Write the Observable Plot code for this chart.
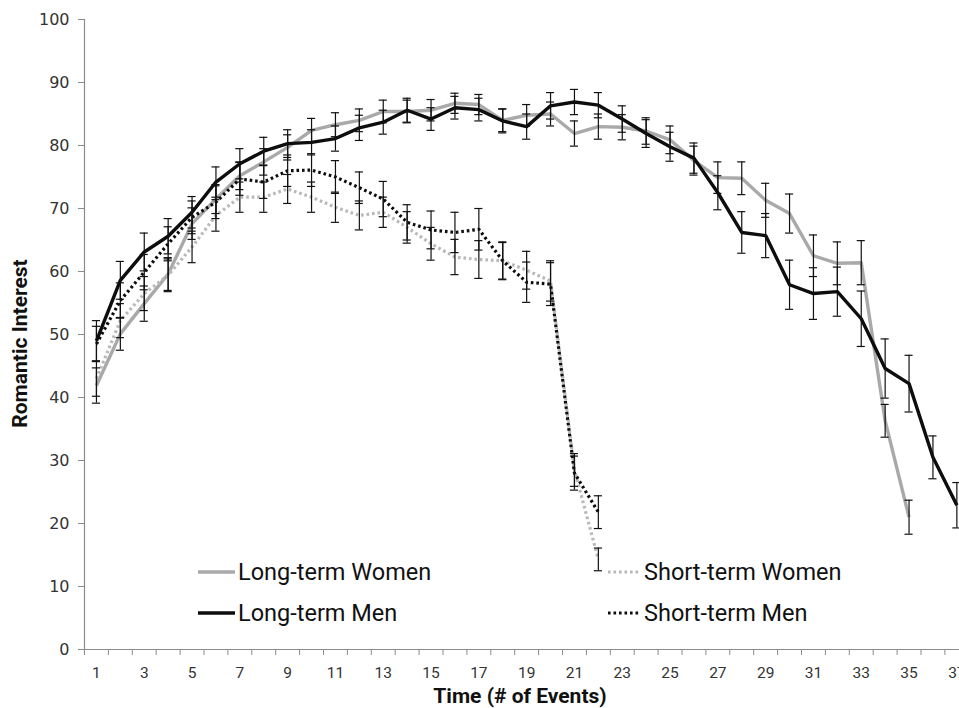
<!DOCTYPE html>
<html>
<head>
<meta charset="utf-8">
<script src="https://cdn.jsdelivr.net/npm/d3@7"></script>
<script src="https://cdn.jsdelivr.net/npm/@observablehq/plot@0.6"></script>
<style>
  body { margin: 0; background: #fff; }
  #wrap { position: relative; width: 959px; height: 708px; overflow: hidden; background: #fff; }
  #wrap svg g[aria-label="y-axis tick label"] { font-family: "DejaVu Sans", sans-serif; font-size: 16px; fill: #333; }
  #wrap svg g[aria-label="x-axis tick label"] { font-family: Roboto, sans-serif; font-size: 15.5px; fill: #333; }
  .leg { position: absolute; display: flex; align-items: center; height: 30px; font-family: Roboto, sans-serif; font-size: 23.5px; color: #111; white-space: nowrap; }
  .leg svg { display: block; margin-right: 3px; }
</style>
</head>
<body>
<div id="wrap"></div>
<script>
// ---- data ----
const events = d3.range(1, 38);               // 1..37
const yTicks = d3.range(0, 101, 10);
const xTickLabels = d3.range(1, 38, 2);       // 1,3,...,37
const seriesNames = ["Long-term Women", "Long-term Men", "Short-term Women", "Short-term Men"];
const xTitle = "Time (# of Events)";
const yTitle = "Romantic Interest";

const longWomen = [41.9, 50.1, 54.9, 59.6, 67.6, 71.5, 75.2, 77.4, 79.7, 82.4,
                   83.3, 84.0, 85.4, 85.4, 85.6, 86.7, 86.5, 84.0, 84.8, 85.0,
                   81.9, 83.0, 82.9, 82.3, 80.9, 77.6, 74.9, 74.8, 71.3, 69.2,
                   62.5, 61.3, 61.4, 36.3, 21.0];
const longWomenErr = [2.8, 2.6, 2.8, 2.6, 2.5, 2.3, 2.2, 2.1, 2.0, 1.9,
                      1.9, 1.8, 1.8, 1.8, 1.7, 1.6, 1.6, 1.8, 1.7, 1.9,
                      2.0, 2.0, 2.0, 2.1, 2.2, 2.3, 2.5, 2.6, 2.7, 3.1,
                      3.3, 3.4, 3.5, 2.6, 2.7];

const longMen = [49.0, 58.6, 63.1, 65.6, 69.4, 74.2, 77.1, 79.1, 80.3, 80.5,
                 81.1, 82.8, 83.7, 85.6, 84.2, 86.0, 85.7, 83.9, 83.0, 86.3,
                 86.9, 86.4, 84.2, 81.9, 79.8, 78.0, 72.5, 66.2, 65.7, 57.9,
                 56.5, 56.8, 52.5, 44.6, 42.2, 30.5, 22.9];
const longMenErr = [3.2, 3.0, 3.0, 2.8, 2.5, 2.4, 2.4, 2.2, 2.2, 2.0,
                    2.0, 2.0, 1.9, 1.9, 1.8, 1.8, 1.8, 1.9, 2.0, 2.1,
                    2.0, 2.0, 2.1, 2.2, 2.3, 2.4, 2.7, 3.3, 3.5, 3.9,
                    4.1, 3.9, 4.4, 4.7, 4.5, 3.4, 3.6];

const shortWomen = [43.0, 52.2, 56.5, 59.4, 63.9, 68.9, 71.8, 71.8, 73.1, 71.8,
                    70.2, 68.9, 69.4, 67.0, 64.4, 62.3, 61.9, 61.7, 60.2, 58.5,
                    28.5, 14.3];
const shortWomenErr = [2.8, 2.7, 2.7, 2.6, 2.5, 2.5, 2.4, 2.4, 2.3, 2.4,
                       2.4, 2.3, 2.4, 2.5, 2.6, 2.8, 3.0, 2.9, 3.0, 3.2,
                       2.6, 1.8];

const shortMen = [48.5, 55.4, 59.9, 64.4, 68.6, 71.0, 74.7, 74.2, 76.0, 76.1,
                  75.0, 73.3, 71.5, 67.8, 66.6, 66.2, 66.7, 61.7, 58.3, 58.0,
                  28.0, 21.8];
const shortMenErr = [2.8, 2.8, 2.8, 2.7, 2.6, 2.6, 2.6, 2.6, 2.5, 2.6,
                     2.6, 2.5, 2.8, 2.8, 3.0, 3.2, 3.3, 3.0, 3.2, 3.4,
                     2.7, 2.6];

// ---- build table ----
function rows(name, vals, errs) {
  return vals.map((v, k) => ({series: name, t: events[k], v, lo: v - errs[k], hi: v + errs[k]}));
}
const LW = rows(seriesNames[0], longWomen, longWomenErr);
const LM = rows(seriesNames[1], longMen, longMenErr);
const SW = rows(seriesNames[2], shortWomen, shortWomenErr);
const SM = rows(seriesNames[3], shortMen, shortMenErr);
const all = [...LW, ...LM, ...SW, ...SM];

const styles = {
  "Long-term Women": {stroke: "#a9a9a9", strokeWidth: 3.4, dash: null},
  "Long-term Men": {stroke: "#0d0d0d", strokeWidth: 3.4, dash: null},
  "Short-term Women": {stroke: "#b8b8b8", strokeWidth: 3.2, dash: "2.6,2.9"},
  "Short-term Men": {stroke: "#0d0d0d", strokeWidth: 3.2, dash: "2.6,2.9"}
};

const xDomain = [events[0] - 0.5, events[events.length - 1] + 0.5];
const bandPx = 23.9;
const capHalf = 0.17;

function lineMark(data, name) {
  const s = styles[name];
  return Plot.line(data, {x: "t", y: "v", stroke: s.stroke, strokeWidth: s.strokeWidth,
    strokeDasharray: s.dash || undefined, strokeLinejoin: "round", strokeLinecap: "butt"});
}

const chart = Plot.plot({
  width: 959,
  height: 708,
  marginLeft: 84,
  marginRight: 0,
  marginTop: 19,
  marginBottom: 59,
  style: {fontFamily: "Roboto, sans-serif", background: "#fff", overflow: "hidden"},
  x: {type: "linear", domain: xDomain, range: [84, 84 + bandPx * events.length]},
  y: {domain: [0, 100]},
  marks: [
    // axes
    Plot.axisY({ticks: yTicks, tickSize: 6, tickPadding: 9, stroke: "#8c8c8c", label: null, tickFormat: d => String(d)}),
    Plot.axisX({ticks: d3.range(xDomain[0], xDomain[1] + 0.01, 1), tickSize: 6, stroke: "#8c8c8c", tickFormat: () => "", label: null}),
    Plot.axisX({ticks: xTickLabels, tickSize: 0, tickPadding: 17, tickFormat: d => String(d), label: null}),
    Plot.ruleY([0], {stroke: "#8c8c8c", strokeWidth: 1.2}),
    Plot.ruleX([xDomain[0]], {y1: 0, y2: 100, stroke: "#8c8c8c", strokeWidth: 1.2}),
    // axis titles
    Plot.text([xTitle], {frameAnchor: "bottom", textAnchor: "middle", lineAnchor: "middle", dx: -2, dy: 47, fontSize: 21, fontWeight: "bold", fill: "#111", fontFamily: "Roboto, sans-serif"}),
    Plot.text([yTitle], {frameAnchor: "left", textAnchor: "middle", dx: -64, dy: 9, rotate: -90, fontSize: 21, fontWeight: "bold", fill: "#111", fontFamily: "Roboto, sans-serif"}),
    // series lines
    lineMark(LW, seriesNames[0]),
    lineMark(SW, seriesNames[2]),
    lineMark(LM, seriesNames[1]),
    lineMark(SM, seriesNames[3]),
    // error bars
    Plot.ruleX(all, {x: "t", y1: "lo", y2: "hi", stroke: "#111", strokeWidth: 1.2}),
    Plot.ruleY(all, {y: "lo", x1: d => d.t - capHalf, x2: d => d.t + capHalf, stroke: "#111", strokeWidth: 1.2}),
    Plot.ruleY(all, {y: "hi", x1: d => d.t - capHalf, x2: d => d.t + capHalf, stroke: "#111", strokeWidth: 1.2})
  ]
});

const wrap = document.getElementById("wrap");
wrap.appendChild(chart);

// ---- legend (overlaid inside the plot area, as in the reference) ----
const legendPos = {
  "Long-term Women": {left: 198, top: 557, w: 37},
  "Long-term Men": {left: 198, top: 598, w: 37},
  "Short-term Women": {left: 608, top: 557, w: 33},
  "Short-term Men": {left: 608, top: 598, w: 33}
};
for (const name of seriesNames) {
  const s = styles[name], p = legendPos[name];
  const div = document.createElement("div");
  div.className = "leg";
  div.style.left = p.left + "px";
  div.style.top = p.top + "px";
  div.innerHTML = `<svg width="${p.w}" height="30"><line x1="0" x2="${p.w}" y1="15" y2="15" stroke="${s.stroke}" stroke-width="${s.strokeWidth}" ${s.dash ? `stroke-dasharray="${s.dash}"` : ""}/></svg><span>${name}</span>`;
  wrap.appendChild(div);
}
</script>
</body>
</html>
